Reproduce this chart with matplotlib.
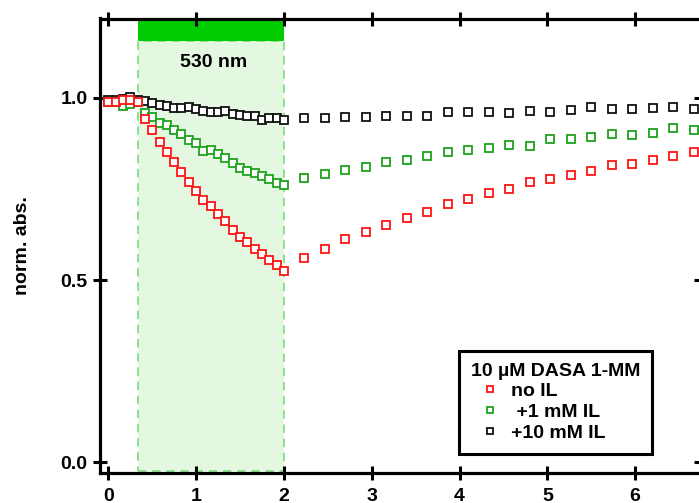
import matplotlib
matplotlib.use("Agg")
import matplotlib.pyplot as plt
from matplotlib.patches import Rectangle

plt.rcParams['font.family'] = ['Liberation Sans', 'DejaVu Sans']
plt.rcParams['font.weight'] = 'bold'
plt.rcParams['font.size'] = 14

# time in minutes: 5 s steps up to the end of irradiation, then 14 s steps
t = [0.0, 0.083, 0.167, 0.25, 0.333, 0.417, 0.5, 0.583, 0.667, 0.75,
     0.833, 0.917, 1.0, 1.083, 1.167, 1.25, 1.333, 1.417, 1.5, 1.583,
     1.667, 1.75, 1.833, 1.917, 2.0,
     2.233, 2.467, 2.7, 2.933, 3.167, 3.4, 3.633, 3.867, 4.1, 4.333,
     4.567, 4.8, 5.033, 5.267, 5.5, 5.733, 5.967, 6.2, 6.433, 6.667]

no_il = [0.990, 0.990, 0.995, 0.995, 0.990,
         0.942, 0.912, 0.879, 0.852, 0.824, 0.797, 0.769, 0.745, 0.720, 0.703,
         0.681, 0.662, 0.637, 0.618, 0.604, 0.585, 0.571, 0.555, 0.541, 0.525,
         0.560, 0.585, 0.612, 0.632, 0.651, 0.670, 0.687, 0.709, 0.723, 0.739,
         0.750, 0.769, 0.777, 0.788, 0.799, 0.816, 0.819, 0.830, 0.841, 0.852]

il_1mm = [0.990, 0.988, 0.979, 0.983, 0.990,
          0.959, 0.948, 0.931, 0.926, 0.912, 0.901, 0.885, 0.876, 0.854, 0.857,
          0.846, 0.835, 0.821, 0.808, 0.799, 0.794, 0.786, 0.777, 0.766, 0.761,
          0.779, 0.792, 0.803, 0.810, 0.824, 0.830, 0.840, 0.852, 0.857, 0.863,
          0.870, 0.869, 0.886, 0.886, 0.893, 0.901, 0.898, 0.905, 0.918, 0.912]

il_10mm = [0.995, 0.995, 0.998, 1.003, 0.993,
           0.991, 0.985, 0.981, 0.978, 0.972, 0.973, 0.975, 0.970, 0.964, 0.962,
           0.960, 0.965, 0.956, 0.953, 0.951, 0.949, 0.940, 0.945, 0.945, 0.940,
           0.944, 0.944, 0.948, 0.947, 0.951, 0.951, 0.951, 0.960, 0.961, 0.960,
           0.959, 0.963, 0.962, 0.967, 0.974, 0.969, 0.969, 0.973, 0.976, 0.970]

labels = ["no IL", " +1 mM IL", "+10 mM IL"]
colors = ["#ff1414", "#1ea31e", "#111111"]

light_on, light_off = 0.333, 2.0
xmin, xmax = -0.095, 6.75
ymin, ymax = -0.029, 1.218
bar_bottom = 1.155

fig = plt.figure(figsize=(6.99, 5.03), dpi=100)
ax = fig.add_axes([100 / 699, 30.3 / 503, 601 / 699, 454.2 / 503])

# irradiation window
ax.add_patch(Rectangle((light_on, ymin + 0.005), light_off - light_on,
                       bar_bottom - ymin - 0.005, facecolor="#e3f7e1",
                       edgecolor="#7ddc7d", linestyle=(0, (5, 3.5)),
                       linewidth=1.2, zorder=0))
ax.add_patch(Rectangle((light_on, bar_bottom), light_off - light_on,
                       ymax - bar_bottom, facecolor="#00cc00",
                       edgecolor="none", zorder=1))
ax.text((light_on + light_off) / 2 + 0.03, 1.096, "530 nm", ha="center",
        va="center", fontsize=14, fontweight="bold")

series = [no_il, il_1mm, il_10mm]
handles = []
for ys, lab, c, z in zip(series, labels, colors, [5, 4, 3]):
    h, = ax.plot(t, ys, linestyle="none", marker="s", markersize=5.2,
                 markerfacecolor="white", markeredgecolor=c,
                 markeredgewidth=1.3, label=lab, zorder=z)
    handles.append(h)

ax.set_xlim(xmin, xmax)
ax.set_ylim(ymin, ymax)
ax.set_xticks([0, 1, 2, 3, 4, 5, 6])
ax.set_yticks([0.0, 0.5, 1.0])
ax.set_yticklabels(["0.0", "0.5", "1.0"])
for s in ax.spines.values():
    s.set_linewidth(2.3)
ax.tick_params(axis="both", which="major", direction="inout", length=10,
               width=2.2, top=True, right=True, labelsize=14)
ax.tick_params(axis="x", pad=6)
ax.tick_params(axis="y", pad=4)

ax.set_ylabel("norm. abs.", fontsize=14, fontweight="bold")
ax.yaxis.set_label_coords(-0.115, 0.5)

leg = ax.legend(handles=handles, title="10 \u00b5M DASA 1-MM",
                loc="upper left", bbox_to_anchor=(459 / 699, 1 - 350.5 / 503),
                bbox_transform=fig.transFigure, borderaxespad=0,
                alignment="left", handlelength=1.9, handletextpad=0.15,
                labelspacing=0.16, borderpad=0.62, markerscale=0.85,
                fancybox=False, framealpha=1, edgecolor="black", fontsize=14,
                title_fontproperties={"weight": "bold", "size": 14})
leg.get_frame().set_linewidth(2.2)
leg.set_zorder(10)

fig.savefig("out.png", dpi=100)
